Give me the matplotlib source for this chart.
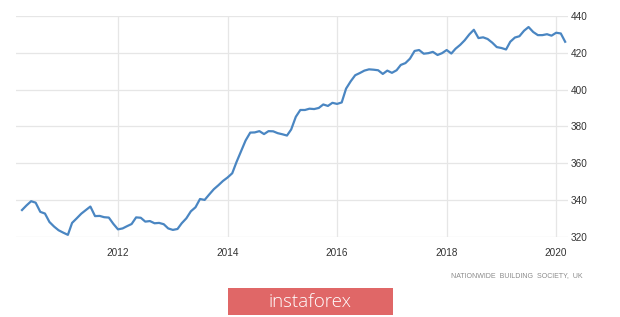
import matplotlib
matplotlib.use('Agg')
import matplotlib.pyplot as plt
import matplotlib.dates as mdates
import pandas as pd
import numpy as np

# Nationwide house price index, monthly from April 2010
start_month = '2010-04-01'
index_values = [
    334.5, 337.0, 339.3, 338.5, 333.5, 332.6, 328.0, 325.5, 323.5, 322.2,
    321.0, 327.5, 330.0, 332.5, 334.5, 336.4, 331.2, 331.3, 330.6, 330.4,
    327.0, 324.0, 324.5, 325.7, 326.9, 330.5, 330.3, 328.2, 328.5, 327.3,
    327.5, 326.8, 324.5, 323.7, 324.2, 327.3, 330.0, 333.8, 336.0, 340.5,
    340.0, 343.0, 345.8, 348.0, 350.3, 352.2, 354.5, 360.5, 366.5, 372.3,
    376.6, 376.7, 377.4, 375.8, 377.4, 377.3, 376.3, 375.7, 375.0, 378.3,
    385.2, 388.9, 388.9, 389.6, 389.4, 390.0, 391.9, 391.1, 392.8, 392.2,
    393.0, 400.5, 404.5, 407.8, 409.0, 410.3, 411.0, 410.8, 410.5, 408.5,
    410.3, 409.1, 410.5, 413.4, 414.4, 416.8, 421.0, 421.5, 419.5, 419.8,
    420.5, 418.8, 419.8, 421.5, 419.6, 422.2, 424.3, 426.8, 430.0, 432.5,
    428.0, 428.4, 427.5, 425.5, 423.1, 422.6, 421.8, 426.0, 428.3, 429.0,
    432.0, 434.0, 431.3, 429.6, 429.6, 430.1, 429.3, 430.9, 430.5, 426.0,
]
dates = pd.date_range(start_month, periods=len(index_values), freq='MS')

year_ticks = [2012, 2014, 2016, 2018, 2020]
y_ticks = [320, 340, 360, 380, 400, 420, 440]
source_text = 'NATIONWIDE  BUILDING  SOCIETY,  UK'
watermark = 'instaforex'

plt.rcParams['font.family'] = ['Liberation Sans', 'DejaVu Sans']

fig = plt.figure(figsize=(6.2, 3.17), dpi=100)
ax = fig.add_axes([16 / 620, 1 - 236.7 / 317, 552 / 620, 220.7 / 317])

ax.plot(dates, index_values, color='#4a86c2', linewidth=1.6,
        solid_joinstyle='round', clip_on=False, zorder=3)

ax.set_xlim(pd.Timestamp('2010-02-20'), pd.Timestamp('2020-03-20'))
ax.set_ylim(320, 440)
ax.set_xticks([pd.Timestamp(f'{y}-01-01') for y in year_ticks])
ax.xaxis.set_major_formatter(mdates.DateFormatter('%Y'))
ax.set_yticks(y_ticks)
ax.yaxis.tick_right()

for s in ax.spines.values():
    s.set_visible(False)
ax.grid(True, color='#e6e6e6', linewidth=0.9)
ax.set_axisbelow(True)
ax.tick_params(axis='both', length=0, labelsize=7.2, labelcolor='#333333')
ax.tick_params(axis='x', pad=8)
ax.tick_params(axis='y', pad=2)

fig.text(583 / 620, 1 - 276 / 317, source_text, ha='right', va='center',
         fontsize=5, color='#8a8a8a')

# watermark box
fig.patches.append(matplotlib.patches.Rectangle(
    (228 / 620, 1 - 315 / 317), 165 / 620, 27 / 317,
    transform=fig.transFigure, facecolor='#e06767', edgecolor='none'))
fig.text(310 / 620, 1 - 302 / 317, watermark, ha='center', va='center',
         fontsize=13.5, color='white', family=['Open Sans', 'DejaVu Sans'],
         fontweight='light')

fig.savefig('out.png', dpi=100)
